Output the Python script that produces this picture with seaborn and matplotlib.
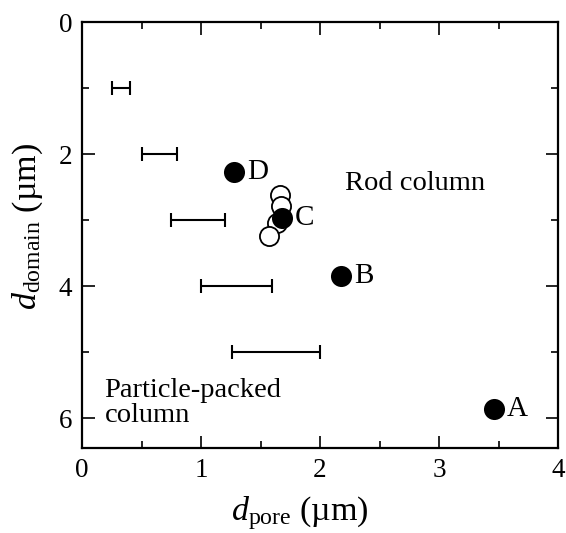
import matplotlib
matplotlib.use("Agg")
import matplotlib.pyplot as plt
import seaborn as sns
import pandas as pd
from matplotlib.ticker import MultipleLocator

# Filled points (labelled)
filled_labels = ["D", "C", "B", "A"]
filled_x = [1.28, 1.68, 2.18, 3.46]
filled_y = [2.27, 2.97, 3.84, 5.86]

# Open points
open_x = [1.66, 1.675, 1.636, 1.575]
open_y = [2.62, 2.78, 3.04, 3.24]

# Horizontal range bars
bar_y = [1, 2, 3, 4, 5]
bar_lo = [0.25, 0.50, 0.75, 1.00, 1.26]
bar_hi = [0.40, 0.80, 1.20, 1.60, 2.00]

sns.set_theme(style="ticks")
plt.rcParams['font.family'] = ['Liberation Serif', 'DejaVu Serif']
plt.rcParams['mathtext.fontset'] = 'custom'
plt.rcParams['mathtext.rm'] = 'Liberation Serif'
plt.rcParams['mathtext.it'] = 'Liberation Serif:italic'
plt.rcParams['text.color'] = 'black'
plt.rcParams['axes.labelcolor'] = 'black'

fig = plt.figure(figsize=(5.66, 5.33), dpi=100)
ax = fig.add_axes([0.1449, 0.1595, 0.841, 0.7992])

df_open = pd.DataFrame({"x": open_x, "y": open_y})
df_fill = pd.DataFrame({"x": filled_x, "y": filled_y, "lab": filled_labels})

sns.scatterplot(data=df_open, x="x", y="y", ax=ax, s=190, facecolor="white",
                edgecolor="black", linewidth=1.3, zorder=3)
sns.scatterplot(data=df_fill, x="x", y="y", ax=ax, s=230, color="black",
                edgecolor="black", linewidth=0, zorder=4)

for lo, hi, y in zip(bar_lo, bar_hi, bar_y):
    c = (lo + hi) / 2
    ax.errorbar([c], [y], xerr=[[c - lo], [hi - c]], fmt='none', ecolor='black',
                elinewidth=1.5, capsize=5, capthick=1.5)

for lab, x, y in zip(filled_labels, filled_x, filled_y):
    ax.text(x + 0.11, y, lab, fontsize=21, va='center', ha='left')

ax.text(2.21, 2.45, "Rod column", fontsize=20.5, va='center', ha='left')
ax.text(0.19, 5.77, "Particle-packed\ncolumn", fontsize=20.5, va='center', ha='left',
        linespacing=1.0)

ax.set_xlim(0, 4)
ax.set_ylim(6.45, 0)
ax.xaxis.set_major_locator(MultipleLocator(1))
ax.xaxis.set_minor_locator(MultipleLocator(0.5))
ax.yaxis.set_major_locator(MultipleLocator(2))
ax.yaxis.set_minor_locator(MultipleLocator(1))
ax.tick_params(which='both', direction='in', top=True, right=True, width=1.2,
               colors='black', labelsize=19.5, pad=7)
ax.tick_params(which='major', length=9)
ax.tick_params(which='minor', length=5)
for sp in ax.spines.values():
    sp.set_linewidth(1.6)
    sp.set_color('black')

ax.set_xlabel(r"$d_{\rm pore}$ (µm)", fontsize=24.5)
ax.set_ylabel(r"$d_{\rm domain}$ (µm)", fontsize=24.5)
ax.xaxis.set_label_coords(0.458, -0.108)
ax.yaxis.set_label_coords(-0.077, 0.52)

fig.savefig("out.png", dpi=100)
